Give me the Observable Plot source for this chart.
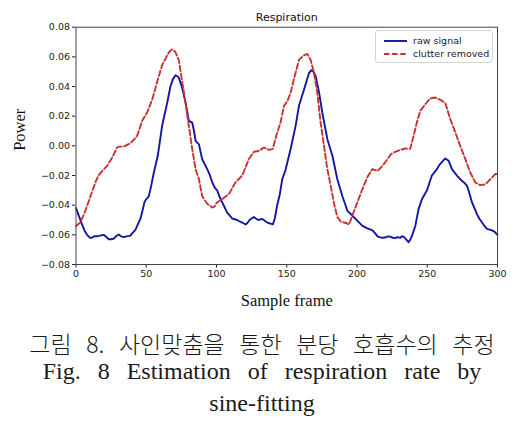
<!DOCTYPE html>
<html>
<head>
<meta charset="utf-8">
<script src="https://cdn.jsdelivr.net/npm/d3@7"></script>
<script src="https://cdn.jsdelivr.net/npm/@observablehq/plot@0.6"></script>
<style>
  html, body { margin: 0; padding: 0; background: #fff; }
  #wrap { position: relative; width: 524px; height: 432px; overflow: hidden; background: #fff; }
  #chart { position: absolute; left: 0; top: 0; }
  .cap { position: absolute; left: 0; width: 524px; text-align: center; color: #1a1a1a; white-space: nowrap; }
  #cap1 { top: 331.5px; font-family: "Noto Sans CJK KR", sans-serif; font-size: 23px; line-height: 23px; word-spacing: 9.5px; font-weight: 300; }
  #cap2 { top: 359px; font-family: "Liberation Serif", serif; font-size: 24px; line-height: 24px; word-spacing: 11px; }
  #cap3 { top: 391px; font-family: "Liberation Serif", serif; font-size: 24px; line-height: 24px; }
  #legend { position: absolute; left: 375px; top: 30px; width: 116px; height: 30.5px; border: 1px solid #d4d4d4; border-radius: 3px; background: rgba(255,255,255,0.85); font-family: "DejaVu Sans", sans-serif; font-size: 9.5px; color: #222; }
  #legend .row { position: absolute; left: 0; height: 12px; display: flex; align-items: center; }
  #legend svg { margin-left: 7.5px; margin-right: 6.5px; }
</style>
</head>
<body>
<div id="wrap">
  <div id="chart"></div>
  <div id="legend"></div>
  <div class="cap" id="cap1">그림 8. 사인맞춤을 통한 분당 호흡수의 추정</div>
  <div class="cap" id="cap2">Fig. 8 Estimation of respiration rate by</div>
  <div class="cap" id="cap3">sine-fitting</div>
</div>
<script>
const chartTitle = "Respiration";
const xLabel = "Sample frame";
const yLabel = "Power";
const seriesNames = ["raw signal", "clutter removed"];
const xTicks = [0, 50, 100, 150, 200, 250, 300];
const yTicks = [-0.08, -0.06, -0.04, -0.02, 0.00, 0.02, 0.04, 0.06, 0.08];

const rawFrames = [0,2,4.3,6,7.9,10,11.4,13,15,17,19.7,21,23.3,25,26.9,28.5,30.4,32,34,36,38.7,40,42.3,44,45.9,47,48.7,50,51.8,53.5,55.4,58.2,61.3,63,64.9,67.2,69,70.8,72,73.2,75.6,78,80.3,82.7,84,85.1,87.5,89.8,93.4,95,97,99,100.5,102,104,107.6,109.5,111.2,113,114.7,116.5,118.3,120.7,122,123.5,125,126.6,128,129.7,131,133,135,136.8,138.5,140.1,141.5,143.2,145,146.8,149.2,152.8,156.3,158.7,162.3,165.8,167.5,169,170.6,173,175.3,178.9,182.5,186,189.6,193.2,196.7,200.3,203.9,207.4,211,213,214.6,216,218.1,220,222,223.7,225.5,227.2,229,230.8,232,233.2,235,236.7,238,239.1,241.5,243.8,246.2,248,249.8,251.5,253.3,255,256.9,258.5,260.4,262.8,265.2,267.6,269.5,271.1,273,274.7,276.5,278.3,280,281.8,283.6,285.4,287,289,290.7,292.5,294.3,296.1,298,300];
const rawValues = [-0.042,-0.047,-0.053,-0.057,-0.060,-0.062,-0.062,-0.061,-0.061,-0.0605,-0.060,-0.061,-0.063,-0.063,-0.0625,-0.061,-0.0598,-0.061,-0.0615,-0.061,-0.0605,-0.059,-0.0566,-0.053,-0.049,-0.045,-0.038,-0.036,-0.034,-0.027,-0.018,-0.0067,0.0135,0.021,0.029,0.040,0.045,0.0476,0.047,0.046,0.039,0.029,0.0169,0.0157,0.010,0.0034,0.001,-0.009,-0.0157,-0.019,-0.0247,-0.0285,-0.030,-0.034,-0.038,-0.045,-0.047,-0.049,-0.0495,-0.050,-0.051,-0.0517,-0.053,-0.052,-0.050,-0.049,-0.048,-0.049,-0.050,-0.0495,-0.0494,-0.051,-0.052,-0.0525,-0.053,-0.049,-0.040,-0.033,-0.0225,-0.016,-0.002,0.0135,0.027,0.038,0.049,0.051,0.050,0.047,0.036,0.0225,0.0045,-0.0067,-0.0225,-0.034,-0.0438,-0.047,-0.0506,-0.054,-0.0557,-0.057,-0.059,-0.061,-0.0615,-0.062,-0.0618,-0.061,-0.0612,-0.062,-0.0622,-0.0615,-0.062,-0.061,-0.0612,-0.063,-0.065,-0.063,-0.0607,-0.054,-0.0427,-0.036,-0.033,-0.030,-0.025,-0.020,-0.018,-0.0157,-0.013,-0.011,-0.0085,-0.010,-0.0157,-0.018,-0.020,-0.022,-0.0236,-0.025,-0.027,-0.032,-0.038,-0.042,-0.046,-0.049,-0.0517,-0.054,-0.056,-0.0565,-0.057,-0.058,-0.060];

const clutterFrames = [0,3.1,6.7,10.3,13.8,16,18.6,22.1,25.7,29.3,31,34,36,38.7,41,43.5,45,47.1,50.6,54.2,57.7,61.3,64.9,66.5,68.4,70,70.8,73.2,75.6,78,80.3,82.7,85.1,87.5,89.8,93.4,95.5,97,98.5,100.5,104,108.8,113.5,118.3,123,126.6,130.2,133.7,137.3,140.1,143.2,145.6,148,150.4,152.8,155.1,158.7,162.3,164.6,167,169.4,171.7,174.1,176.5,178.9,181.3,183.7,186,188.4,192,194.4,196.7,200.3,203.9,207.4,211,214.6,218.1,221.7,224.1,227.2,230.8,234.3,237.9,240.3,242.6,245,248.6,252.1,255.7,259.3,262.8,266.4,270,273.5,277.1,280.6,284.2,287.8,291.3,294.9,298.5,300];
const clutterValues = [-0.054,-0.0517,-0.0438,-0.034,-0.0247,-0.020,-0.017,-0.0135,-0.008,-0.001,-0.0005,-0.0005,0.0005,0.0018,0.004,0.0067,0.011,0.0169,0.0225,0.031,0.043,0.0544,0.061,0.0635,0.065,0.064,0.063,0.0578,0.043,0.029,0.0135,-0.002,-0.0157,-0.0225,-0.034,-0.039,-0.0405,-0.0416,-0.041,-0.038,-0.036,-0.0326,-0.0247,-0.020,-0.009,-0.004,-0.0034,-0.0011,-0.0027,-0.002,0.009,0.0157,0.027,0.030,0.036,0.045,0.058,0.061,0.062,0.058,0.049,0.036,0.0157,0,-0.0157,-0.027,-0.039,-0.048,-0.051,-0.052,-0.053,-0.047,-0.038,-0.029,-0.021,-0.0157,-0.017,-0.0135,-0.009,-0.0056,-0.004,-0.0027,-0.0018,-0.002,0.0067,0.0157,0.0236,0.028,0.032,0.0326,0.031,0.029,0.018,0.009,0,-0.009,-0.018,-0.0247,-0.0265,-0.026,-0.0225,-0.019,-0.019];

const blue = "#1515a3";
const red = "#c83232";
const dash = "5.5,2.6";

const raw = rawFrames.map((f, i) => ({frame: f, value: rawValues[i]}));
const clutter = clutterFrames.map((f, i) => ({frame: f, value: clutterValues[i]}));

const chart = Plot.plot({
  width: 524,
  height: 312,
  marginLeft: 75.5,
  marginRight: 27,
  marginTop: 26.7,
  marginBottom: 48,
  style: {fontFamily: "DejaVu Sans", fontSize: "9.5px", background: "white", color: "#222", overflow: "visible"},
  x: {domain: [0, 300], ticks: xTicks, tickSize: 3.5, tickPadding: 2.5, label: null},
  y: {domain: [-0.08, 0.08], ticks: yTicks, tickFormat: d3.format(".2f"), tickSize: 3.5, tickPadding: 2.5, label: null},
  marks: [
    Plot.line(raw, {x: "frame", y: "value", stroke: blue, strokeWidth: 1.9, curve: "linear"}),
    Plot.line(clutter, {x: "frame", y: "value", stroke: red, strokeWidth: 1.9, strokeDasharray: dash, curve: "linear"}),
    Plot.frame({stroke: "#444", strokeWidth: 1}),
    Plot.text([chartTitle], {frameAnchor: "top", lineAnchor: "middle", dy: -9.5, fontSize: 11, fill: "#111", fontFamily: "DejaVu Sans"}),
    Plot.text([xLabel], {frameAnchor: "bottom", lineAnchor: "middle", dy: 36.5, fontSize: 16.5, fill: "#111", fontFamily: "Liberation Serif"}),
    Plot.text([yLabel], {frameAnchor: "left", lineAnchor: "middle", dx: -56, dy: 5, rotate: -90, fontSize: 16.5, fill: "#111", fontFamily: "Liberation Serif"})
  ]
});
document.getElementById("chart").appendChild(chart);

// legend
const legend = d3.select("#legend");
const styles = [{stroke: blue, dash: null}, {stroke: red, dash: dash}];
seriesNames.forEach((name, i) => {
  const row = legend.append("div").attr("class", "row").style("top", (3.5 + i * 13.3) + "px");
  const s = row.append("svg").attr("width", 23).attr("height", 12);
  const ln = s.append("line").attr("x1", 0).attr("x2", 23).attr("y1", 6).attr("y2", 6)
    .attr("stroke", styles[i].stroke).attr("stroke-width", 1.9);
  if (styles[i].dash) ln.attr("stroke-dasharray", styles[i].dash);
  row.append("span").text(name);
});
</script>
</body>
</html>
